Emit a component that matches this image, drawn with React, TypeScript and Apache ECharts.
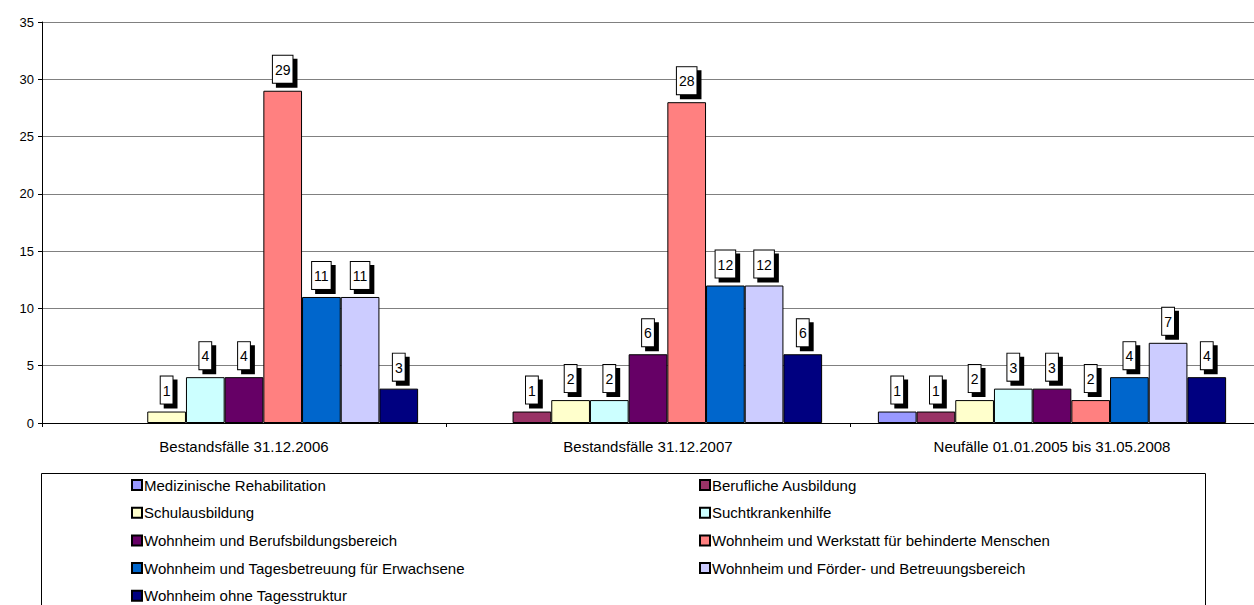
import React, { useEffect, useRef } from "react";
import * as echarts from "echarts";

const categories = [
  "Bestandsfälle 31.12.2006",
  "Bestandsfälle 31.12.2007",
  "Neufälle 01.01.2005 bis 31.05.2008",
];

const seriesNames = [
  "Medizinische Rehabilitation",
  "Berufliche Ausbildung",
  "Schulausbildung",
  "Suchtkrankenhilfe",
  "Wohnheim und Berufsbildungsbereich",
  "Wohnheim und Werkstatt für behinderte Menschen",
  "Wohnheim und Tagesbetreuung für Erwachsene",
  "Wohnheim und Förder- und Betreuungsbereich",
  "Wohnheim ohne Tagesstruktur",
];

const medizinisch = [0, 0, 1];
const beruflich = [0, 1, 1];
const schule = [1, 2, 2];
const sucht = [4, 2, 3];
const berufsbildung = [4, 6, 3];
const werkstatt = [29, 28, 2];
const tagesbetreuung = [11, 12, 4];
const foerder = [11, 12, 7];
const ohneStruktur = [3, 6, 4];

const seriesValues = [
  medizinisch,
  beruflich,
  schule,
  sucht,
  berufsbildung,
  werkstatt,
  tagesbetreuung,
  foerder,
  ohneStruktur,
];

const colors = [
  "#9999FF",
  "#993366",
  "#FFFFCC",
  "#CCFFFF",
  "#660066",
  "#FF8080",
  "#0066CC",
  "#CCCCFF",
  "#000080",
];

const yTicks = [0, 5, 10, 15, 20, 25, 30, 35];

const FONT = "'Liberation Sans', Arial, sans-serif";

export default function App() {
  const ref = useRef<HTMLDivElement>(null);

  useEffect(() => {
    if (!ref.current) return;
    const chart = echarts.init(ref.current, null, { renderer: "svg" });

    const series = seriesNames.map((name, i) => ({
      name,
      type: "bar",
      barGap: "0%",
      barCategoryGap: "13.8%",
      itemStyle: { color: colors[i], borderColor: "#000", borderWidth: 1 },
      label: {
        show: true,
        position: "top",
        distance: 8,
        color: "#000",
        fontSize: 14,
        fontFamily: FONT,
        lineHeight: 16,
        textBorderWidth: 0,
        textShadowBlur: 0,
        textShadowColor: "transparent",
        backgroundColor: "#fff",
        borderColor: "#000",
        borderWidth: 1,
        padding: [6, 2, 5, 2],
        shadowColor: "#000",
        shadowBlur: 0,
        shadowOffsetX: 4,
        shadowOffsetY: 4,
      },
      data: seriesValues[i].map((v) => (v === 0 ? "-" : v)),
    }));

    const leftNames = seriesNames.filter((_, i) => i % 2 === 0);
    const rightNames = seriesNames.filter((_, i) => i % 2 === 1);

    const legendBase = {
      orient: "vertical",
      top: 477,
      height: 300,
      padding: 0,
      itemWidth: 10,
      itemHeight: 10,
      itemGap: 11.7,
      icon: "rect",
      textStyle: {
        fontSize: 15,
        lineHeight: 16,
        fontFamily: FONT,
        color: "#000",
        padding: [0, 0, 0, -3],
      },
      selectedMode: false,
    };

    chart.setOption({
      animation: false,
      backgroundColor: "#fff",
      textStyle: { fontFamily: FONT },
      grid: { left: 42, top: 22, width: 1218, bottom: 182, containLabel: false },
      xAxis: {
        type: "category",
        data: categories,
        axisLine: { show: true, lineStyle: { color: "#000", width: 1 } },
        axisTick: { show: true, length: 4, lineStyle: { color: "#000" } },
        axisLabel: { color: "#000", fontSize: 15, fontFamily: FONT, margin: 16 },
      },
      yAxis: {
        type: "value",
        min: yTicks[0],
        max: yTicks[yTicks.length - 1],
        interval: 5,
        axisLine: { show: true, lineStyle: { color: "#000", width: 1 } },
        axisTick: { show: true, length: 4, lineStyle: { color: "#000" } },
        axisLabel: { color: "#000", fontSize: 13, fontFamily: FONT, margin: 8 },
        splitLine: { show: true, lineStyle: { color: "#808080", width: 1 } },
      },
      legend: [
        { ...legendBase, left: 131, data: leftNames },
        { ...legendBase, left: 699, data: rightNames },
      ],
      graphic: [
        {
          type: "rect",
          left: 39,
          top: 471,
          shape: { width: 1164, height: 200 },
          style: { fill: "none", stroke: "#000", lineWidth: 1 },
          silent: true,
        },
      ],
      series,
    });

    return () => {
      chart.dispose();
    };
  }, []);

  return (
    <div
      ref={ref}
      style={{ position: "fixed", left: 0, top: 0, width: 1254, height: 605 }}
    />
  );
}
